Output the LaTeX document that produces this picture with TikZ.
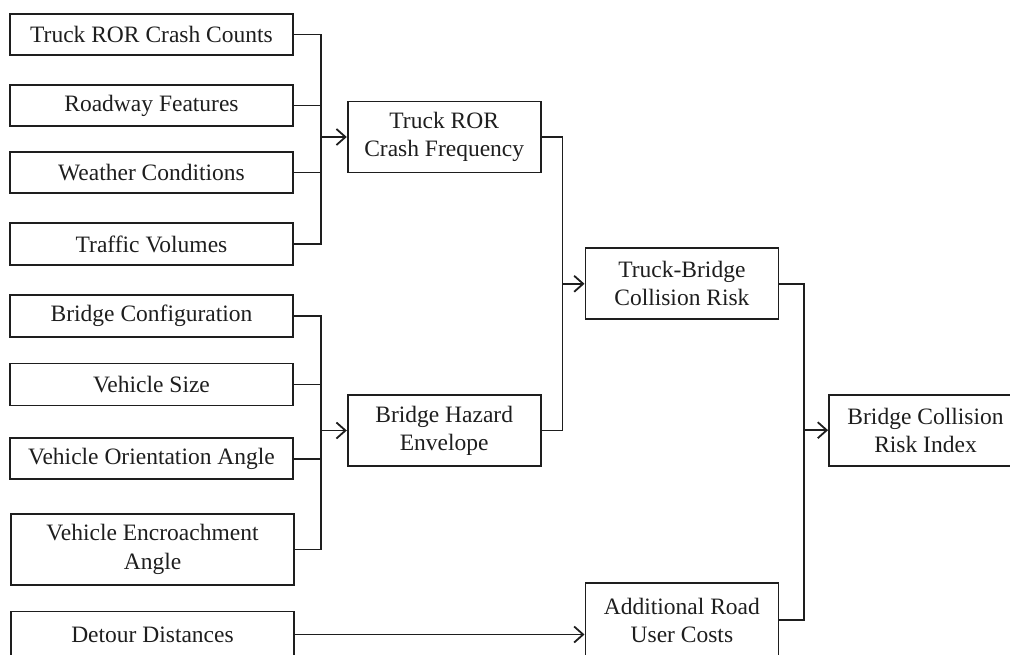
\documentclass[tikz,border=0pt]{standalone}
\usepackage{fontspec}
\setmainfont{Liberation Serif}
\usetikzlibrary{arrows.meta}
\definecolor{ink}{HTML}{1E1E1E}
\begin{document}
\begin{tikzpicture}[x=1pt,y=-1pt,
  box/.style={draw=ink,line width=1.8pt,text=ink,align=center,inner sep=0pt,
    font=\fontsize{23.5}{28.3}\selectfont},
  lbox/.style={box,minimum width=283pt},
  mbox/.style={box,minimum width=193pt,minimum height=71pt},
  wire/.style={draw=ink,line width=1.8pt},
  arr/.style={wire,-{Straight Barb[length=9pt,width=16pt,line width=1.8pt]}}]
\useasboundingbox (0,0) rectangle (1010,654);
\clip (0,0) rectangle (1010,654);
% left column
\node[lbox,minimum height=41pt] (c1) at (151.5,34.5) {Truck ROR Crash Counts};
\node[lbox,minimum height=41pt] (c2) at (151.5,105.5) {Roadway Features};
\node[lbox,minimum height=41pt] (c3) at (151.5,172.5) {Weather Conditions};
\node[lbox,minimum height=42pt] (c4) at (151.5,244) {Traffic Volumes};
\node[lbox,minimum height=42pt] (b1) at (151.5,316) {Bridge Configuration};
\node[lbox,minimum height=42pt] (b2) at (151.5,384.5) {Vehicle Size};
\node[lbox,minimum height=41pt] (b3) at (151.5,458.8) {Vehicle Orientation Angle};
\node[lbox,minimum height=71pt] (b4) at (152.5,549.5) {Vehicle Encroachment\\Angle};
\node[lbox,minimum height=46pt] (d) at (152.5,634.5) {Detour Distances};
% middle
\node[mbox] (freq) at (444.2,137) {Truck ROR\\Crash Frequency};
\node[mbox] (haz) at (444.2,430.5) {Bridge Hazard\\Envelope};
\node[mbox] (tb) at (681.9,283.8) {Truck-Bridge\\Collision Risk};
\node[mbox,minimum height=74pt] (arc) at (681.9,620.3) {Additional Road\\User Costs};
\node[mbox] (bcri) at (925.5,430.2) {Bridge Collision\\Risk Index};
% junctions
\coordinate (j1) at (320.7,137);
\coordinate (j2) at (320.7,430.5);
\coordinate (j3) at (562.5,283.8);
\coordinate (j4) at (804.3,430.2);
% connectors
\foreach \n in {c1,c2,c3,c4} \draw[wire] (\n.east) -| (j1);
\draw[arr] (j1) -- (freq.west);
\foreach \n in {b1,b2,b3,b4} \draw[wire] (\n.east) -| (j2);
\draw[arr] (j2) -- (haz.west);
\draw[wire] (freq.east) -| (j3);
\draw[wire] (haz.east) -| (j3);
\draw[arr] (j3) -- (tb.west);
\draw[wire] (tb.east) -| (j4);
\draw[wire] (arc.east) -| (j4);
\draw[arr] (j4) -- (bcri.west);
\draw[arr] (d.east) -- (d.east -| arc.west);
\end{tikzpicture}
\end{document}
